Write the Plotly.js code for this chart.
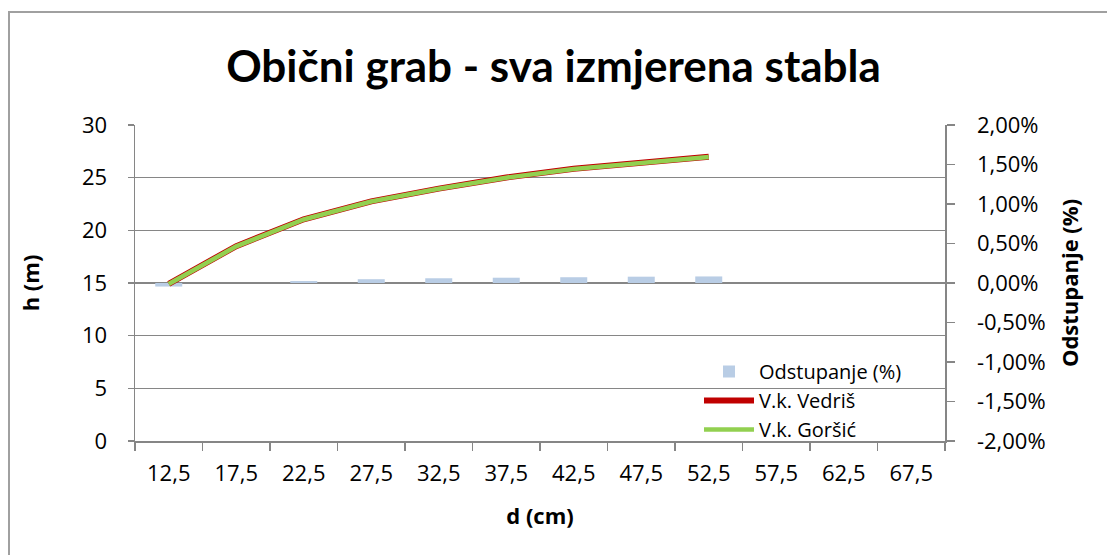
<!DOCTYPE html>
<html>
<head>
<meta charset="utf-8">
<script src="https://cdn.plot.ly/plotly-3.0.1.min.js"></script>
<style>html,body{margin:0;padding:0;background:#fff;}#chart{width:1107px;height:555px;}</style>
</head>
<body>
<div id="chart"></div>
<script>
const categories = ["12,5","17,5","22,5","27,5","32,5","37,5","42,5","47,5","52,5","57,5","62,5","67,5"];
const vedris = [14.92, 18.5, 21.05, 22.75, 23.96, 25.02, 25.84, 26.41, 26.99];
const gorsic = [14.9, 18.48, 21.03, 22.73, 23.94, 25.0, 25.82, 26.39, 26.97];
const odstupanje = [-0.00045, 0.0, 0.00025, 0.00048, 0.0006, 0.00067, 0.00073, 0.0008, 0.00083];
const pctTickVals = [-0.02, -0.015, -0.01, -0.005, 0, 0.005, 0.01, 0.015, 0.02];
const pctTickText = ["-2,00%","-1,50%","-1,00%","-0,50%","0,00%","0,50%","1,00%","1,50%","2,00%"];

const font = "'Open Sans', Lato, sans-serif";
const titleFont = "Lato, 'Open Sans', sans-serif";
const grid = "#868686";
const fs = 22;

const traces = [
  {type:"bar", name:"Odstupanje (%)", x:categories.slice(0, odstupanje.length), y:odstupanje,
   yaxis:"y", marker:{color:"#B9CDE5"}, width:0.4},
  {type:"scatter", mode:"lines", name:"V.k. Vedriš", x:categories.slice(0, vedris.length), y:vedris,
   yaxis:"y2", line:{color:"#C00000", width:6}},
  {type:"scatter", mode:"lines", name:"V.k. Goršić", x:categories.slice(0, gorsic.length), y:gorsic,
   yaxis:"y2", line:{color:"#92D050", width:4.6}}
];

const pl = 135, pr = 945, pt = 125, pb = 441, W = 1107, H = 555;
const pw = pr - pl, ph = pb - pt;

const layout = {
  width: W, height: H,
  margin: {l: pl, r: W - pr, t: pt, b: H - pb, pad: 0},
  paper_bgcolor: "#fff", plot_bgcolor: "rgba(0,0,0,0)",
  separators: ",.",
  font: {family: font, size: fs, color: "#000"},
  title: {text: "<b>Obični grab - sva izmjerena stabla</b>", font: {family: titleFont, size: 44, color: "#000"},
          x: 0.5, xanchor: "center", y: 1 - 67/H, yanchor: "middle"},
  showlegend: true,
  legend: {x: (699 - pl)/pw, y: (pb - 352)/ph, xanchor: "left", yanchor: "top",
           bgcolor: "rgba(0,0,0,0)", font: {family: font, size: 20, color: "#000"},
           tracegroupgap: 0, itemwidth: 50},
  xaxis: {type: "category", categoryorder: "array", categoryarray: categories,
          range: [-0.5, categories.length - 0.5],
          showgrid: false, showline: true, linecolor: grid, linewidth: 1.5,
          ticks: "outside", tickson: "boundaries", ticklen: 8, tickcolor: grid, tickwidth: 1.5,
          tickfont: {family: font, size: fs}, ticklabelstandoff: 12,
          title: {text: "<b>d (cm)</b>", font: {family: font, size: fs}, standoff: 22}},
  yaxis: {side: "right", range: [-0.02, 0.02], tickvals: pctTickVals, ticktext: pctTickText,
          showgrid: false, zeroline: false,
          showline: true, linecolor: grid, linewidth: 1.5,
          ticks: "outside", ticklen: 8, tickcolor: grid, tickwidth: 1.5,
          tickfont: {family: font, size: fs}, ticklabelstandoff: 18,
          title: {text: "<b>Odstupanje (%)</b>", font: {family: font, size: fs}, standoff: 18}},
  yaxis2: {side: "left", overlaying: "y", range: [0, 30], dtick: 5,
           showgrid: true, gridcolor: grid, gridwidth: 1.5, zeroline: false,
           showline: true, linecolor: grid, linewidth: 1.5,
           ticks: "outside", ticklen: 6, tickcolor: grid, tickwidth: 1.5,
           tickfont: {family: font, size: fs}, ticklabelstandoff: 16,
           title: {text: "<b>h (m)</b>", font: {family: font, size: fs}, standoff: 36}},
  shapes: [{type: "rect", xref: "paper", yref: "paper",
            x0: (9 - pl)/pw, x1: (1112 - pl)/pw, y0: (pb - 560)/ph, y1: (pb - 12)/ph,
            line: {color: "#A0A0A0", width: 2}, fillcolor: "rgba(0,0,0,0)", layer: "below"}]
};

Plotly.newPlot("chart", traces, layout, {displayModeBar: false, staticPlot: true});
</script>
</body>
</html>
